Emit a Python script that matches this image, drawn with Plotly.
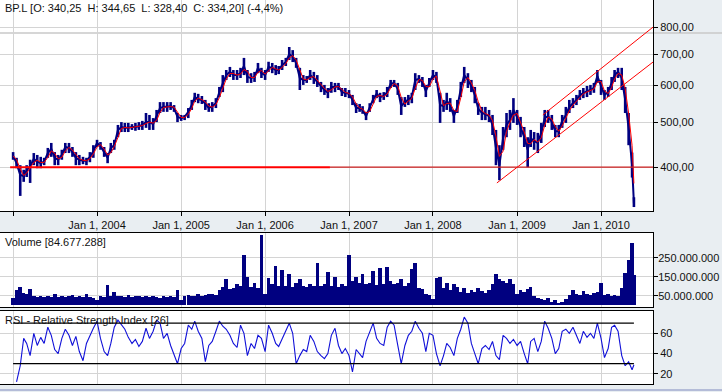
import plotly.graph_objects as go
import pandas as pd

# ---------------- data ----------------
# half-monthly sample points (1st / 16th of each month) from Jan 2003, plus last bar
close = [423,408,385,383,394,402,417,411,408,411,
         429,438,419,415,425,442,440,431,419,415,
         413,413,421,433,451,444,431,419,440,446,
         481,488,486,486,488,488,490,493,500,500,
         495,513,536,539,539,541,536,513,510,513,
         526,544,566,560,558,547,536,541,549,580,
         607,631,641,631,631,637,660,625,622,625,
         654,637,631,657,654,647,647,663,673,700,
         690,670,622,616,616,631,622,610,595,586,
         578,595,595,598,580,578,575,558,536,536,
         531,515,539,560,575,566,569,580,604,607,
         589,541,552,558,566,616,619,610,583,607,
         631,625,544,541,555,544,515,539,589,631,
         616,598,572,534,523,520,515,493,440,404,
         462,493,505,531,513,488,464,436,462,455,
         451,474,510,515,500,478,478,503,518,539,
         549,558,572,578,583,586,592,628,595,572,
         580,607,631,641,622,558,486,404,
         334.20]
high = [431,419,404,395,404,415,429,425,421,419,
        440,451,431,425,436,451,451,442,431,425,
        421,419,431,446,458,453,442,429,451,458,
        493,500,498,498,495,498,500,503,523,518,
        510,531,552,552,552,552,544,523,518,518,
        536,558,578,575,569,558,549,552,563,595,
        631,647,657,647,647,654,687,647,637,641,
        670,654,647,674,670,663,660,680,687,725,
        714,687,654,631,628,647,641,631,610,601,
        592,610,607,607,592,592,586,572,549,547,
        541,526,549,572,586,578,580,595,616,616,
        607,566,566,572,578,637,631,625,601,622,
        647,641,578,558,578,563,531,558,610,657,
        637,616,595,549,539,539,531,518,481,446,
        488,523,531,563,531,513,488,464,481,476,
        474,498,531,531,518,493,493,518,539,558,
        563,572,586,592,598,601,607,647,616,586,
        595,625,647,654,654,595,523,430,
        344.65]
low = [415,398,347,372,381,370,404,398,398,404,
       419,421,404,404,415,429,429,421,404,404,
       406,404,410,419,442,436,421,408,429,436,
       464,476,476,476,481,479,481,481,486,481,
       481,500,523,526,526,531,526,500,503,505,
       510,531,552,549,547,531,526,526,536,566,
       580,616,625,616,616,622,631,607,607,610,
       637,622,616,641,637,631,634,647,660,680,
       673,654,586,601,607,616,604,595,580,572,
       563,578,580,586,569,566,563,544,523,526,
       521,505,526,549,563,552,558,566,592,595,
       572,518,539,544,549,586,607,595,566,595,
       616,607,498,526,531,526,498,523,566,607,
       592,580,549,518,505,505,500,469,404,375,
       436,464,481,498,493,464,442,400,442,436,
       429,451,488,498,481,464,464,486,498,523,
       536,544,558,563,566,572,578,607,572,558,
       566,586,610,622,586,523,446,380,
       328.40]
volume_m = [40,80,95,65,60,85,50,45,48,42,
            50,45,60,45,50,42,48,55,45,50,
            42,60,45,40,30,50,45,105,50,70,
            48,50,45,55,45,48,50,42,48,45,
            50,45,40,48,45,50,45,80,30,50,
            55,48,52,60,50,55,58,62,55,80,
            95,140,85,90,110,100,265,150,95,120,
            90,370,60,145,110,205,100,185,100,165,
            95,120,140,100,95,110,100,225,100,110,
            175,100,150,95,110,100,265,130,150,120,
            165,110,120,180,105,195,110,200,130,110,
            120,140,100,120,190,225,90,85,60,55,
            35,145,150,90,120,80,110,95,70,90,
            65,80,70,90,75,65,80,110,165,140,
            130,120,140,110,60,80,70,85,95,50,
            40,35,30,40,20,30,15,20,35,55,
            80,60,55,75,60,55,65,70,120,55,
            60,50,55,50,90,170,240,330,
            160]
rsi = [None,12,28,55,50,38,60,48,56,50,
       66,58,44,40,55,64,58,48,57,42,
       33,50,58,65,72,55,42,38,50,66,
       73,68,64,56,50,54,47,52,65,55,
       62,73,70,55,60,48,38,30,45,50,
       68,64,72,62,55,32,48,52,62,72,
       67,64,58,50,46,68,60,38,50,45,
       58,55,42,68,60,50,47,55,62,70,
       60,30,38,44,42,58,52,42,38,35,
       40,58,65,48,40,45,38,22,44,40,
       36,52,62,70,55,50,48,66,72,68,
       48,30,48,58,62,72,65,60,42,60,
       58,40,28,38,50,46,38,55,64,76,
       70,50,40,30,45,48,44,52,38,34,
       58,55,50,54,48,52,40,30,52,55,
       42,52,72,65,55,40,45,62,64,60,
       66,58,50,62,56,60,55,70,55,36,
       45,66,68,62,38,28,32,24,
       29]

dates = []
for k in range(178):
    m = k // 2
    dates.append(f"{2003 + m // 12}-{m % 12 + 1:02d}-{'01' if k % 2 == 0 else '16'}")
dates.append("2010-05-24")

year_ticks = [f"{y}-01-01" for y in range(2003, 2011)]
year_labels = [""] + [f"Jan 1, {y}" for y in range(2004, 2011)]
price_ticks = [400, 500, 600, 700, 800]
volume_ticks = [50e6, 150e6, 250e6]
rsi_ticks = [20, 40, 60]

support_level = 400
support_dates = ["2002-12-19", "2006-10-10", "2010-08-15"]
lower_channel = (["2008-10-05", "2010-08-15"], [370, 673])
upper_channel = (["2009-04-23", "2010-08-15"], [518, 800])
rsi_bands = [30, 70]

title_main = "BP.L [O: 340,25\u00a0\u00a0H: 344,65\u00a0\u00a0L: 328,40\u00a0\u00a0C: 334,20] (-4,4%)"
title_vol = "Volume [84.677.288]"
title_rsi = "RSI - Relative Strength Index [26]"

# ---------------- figure ----------------
W, H = 722, 392
FONT = "Liberation Sans, Arial, sans-serif"
NAVY = "#000080"
GRID = "#d4d4d4"
DAY_MS = 86400000


def py(p):
    return 1 - p / H


ma = pd.Series(close).rolling(2, min_periods=1).mean().tolist()

seg_x, seg_y = [], []
for d, h, l in zip(dates, high, low):
    seg_x += [d, d, None]
    seg_y += [l, h, None]

fig = go.Figure()
fig.add_trace(go.Scatter(x=seg_x, y=seg_y, mode="lines",
                         line=dict(color=NAVY, width=2.6), xaxis="x", yaxis="y"))
fig.add_trace(go.Scatter(x=dates, y=close, mode="lines",
                         line=dict(color=NAVY, width=2), xaxis="x", yaxis="y"))
fig.add_trace(go.Scatter(x=dates, y=ma, mode="lines",
                         line=dict(color="#ff0000", width=1), xaxis="x", yaxis="y"))
fig.add_trace(go.Scatter(x=support_dates[:2], y=[support_level] * 2, mode="lines",
                         line=dict(color="#ff0000", width=2), xaxis="x", yaxis="y"))
fig.add_trace(go.Scatter(x=support_dates[1:], y=[support_level] * 2, mode="lines",
                         line=dict(color="#cc2020", width=1.2), xaxis="x", yaxis="y"))
for xs, ys in (lower_channel, upper_channel):
    fig.add_trace(go.Scatter(x=xs, y=ys, mode="lines",
                             line=dict(color="#ff0000", width=1), xaxis="x", yaxis="y"))

fig.add_trace(go.Bar(x=dates, y=[v * 1e6 for v in volume_m], width=15.6 * DAY_MS,
                     marker=dict(color=NAVY, line=dict(width=0)),
                     xaxis="x2", yaxis="y2"))

fig.add_trace(go.Scatter(x=dates, y=rsi, mode="lines",
                         line=dict(color="#1010d8", width=1.1), xaxis="x3", yaxis="y3"))
for b in rsi_bands:
    fig.add_trace(go.Scatter(x=[dates[0], dates[-1]], y=[b, b], mode="lines",
                             line=dict(color="black", width=1.3), xaxis="x3", yaxis="y3"))

xr = ["2002-11-05", "2010-08-15"]
xdom = [0, 653 / W]
common_x = dict(type="date", range=xr, domain=xdom, tickvals=year_ticks, showgrid=True,
                gridcolor=GRID, gridwidth=1, zeroline=False, showline=True, linecolor="black",
                linewidth=1, tickfont=dict(family=FONT, size=11, color="#111"))
common_y = dict(side="right", showgrid=True, gridcolor=GRID, gridwidth=1, zeroline=False,
                showline=True, linecolor="black", linewidth=1, mirror=True, ticks="outside",
                ticklen=4, tickcolor="black", tickfont=dict(family=FONT, size=11, color="#111"))

fig.update_layout(
    width=W, height=H, margin=dict(l=0, r=0, t=0, b=0),
    paper_bgcolor="#e9eef2", plot_bgcolor="white", showlegend=False,
    separators=",.", bargap=0, hovermode=False,
    xaxis=dict(common_x, anchor="y", ticktext=year_labels, ticks="outside", ticklen=4,
               tickcolor="black", mirror=False),
    yaxis=dict(common_y, domain=[py(211), 1], type="log",
               range=[2.5079, 2.9614], tickvals=price_ticks, tickformat=",.2f"),
    xaxis2=dict(common_x, anchor="y2", showticklabels=False, ticks="", mirror=True),
    yaxis2=dict(common_y, domain=[py(307), py(233)], range=[-8e6, 380e6],
                tickvals=volume_ticks, tickformat=",.0f", ticklabelstandoff=-2),
    xaxis3=dict(common_x, anchor="y3", showticklabels=False, ticks="", mirror=True),
    yaxis3=dict(common_y, domain=[py(384), py(311)], range=[10, 82],
                tickvals=rsi_ticks, tickformat="d"),
    shapes=[
        dict(type="line", xref="paper", yref="paper", x0=0, x1=1, y0=py(33), y1=py(33),
             line=dict(color="#c8c8c8", width=1.5), layer="below"),
        dict(type="line", xref="paper", yref="paper", x0=0, x1=1, y0=py(390), y1=py(390),
             line=dict(color="#b4bcd8", width=2)),
    ],
    annotations=[
        dict(text=t, xref="paper", yref="paper", x=3 / W, y=py(yy), xanchor="left",
             yanchor="middle", showarrow=False, font=dict(family=FONT, size=11, color="#111"))
        for t, yy in ((title_main, 8), (title_vol, 242), (title_rsi, 320))
    ],
)

fig.write_html("out.html", config={"displayModeBar": False},
               post_script="document.body.style.margin='0';document.body.style.overflow='hidden';")
